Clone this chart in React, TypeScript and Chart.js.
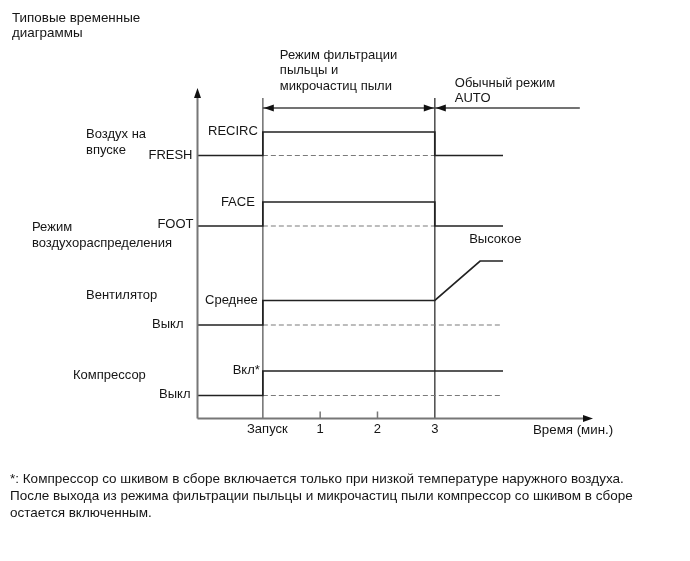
import React, { useEffect, useRef } from "react";
import { Chart, registerables } from "chart.js";

Chart.register(...registerables);

const W = 674;
const H = 545;
const FONT = '"Liberation Sans", Arial, Helvetica, sans-serif';

// ---- time axis (minutes) ----
const AXIS_MIN = -1.14;
const AXIS_MAX = 5.76;
const Y_TOP = 33.05;
const tickValues = [0, 1, 2, 3];
const tickLabels = ["Запуск", "1", "2", "3"];
const boundaryTimes = [0, 3];
const boundaryTop = 32.05;

// ---- regime arrows ----
const filterArrowTimes = [0, 3];
const autoArrowTimes = [3, 5.53];
const arrowLevel = 31.05;

// ---- traces (x = minutes, y = signal level) ----
const intakeTimes = [AXIS_MIN, 0, 0, 3, 3, 4.19];
const intakeValues = [26.3, 26.3, 28.65, 28.65, 26.3, 26.3];
const intakeDashTimes = [0, 3];
const intakeDashValues = [26.3, 26.3];

const modeTimes = [AXIS_MIN, 0, 0, 3, 3, 4.19];
const modeValues = [19.25, 19.25, 21.65, 21.65, 19.25, 19.25];
const modeDashTimes = [0, 3];
const modeDashValues = [19.25, 19.25];

const fanTimes = [AXIS_MIN, 0, 0, 3, 3.79, 4.19];
const fanValues = [9.35, 9.35, 11.8, 11.8, 15.75, 15.75];
const fanDashTimes = [0, 4.17];
const fanDashValues = [9.35, 9.35];

const compTimes = [AXIS_MIN, 0, 0, 4.19];
const compValues = [2.3, 2.3, 4.75, 4.75];
const compDashTimes = [0, 4.17];
const compDashValues = [2.3, 2.3];

const pts = (xs: number[], ys: number[]) => xs.map((x, i) => ({ x, y: ys[i] }));

const SOLID = "#222222";
const DASH = "#7a7a7a";
const GRAY = "#777777";
const TEXT = "#151515";

function arrowHead(ctx: CanvasRenderingContext2D, x: number, y: number, dir: string, len: number, half: number) {
  ctx.beginPath();
  if (dir === "up") {
    ctx.moveTo(x, y);
    ctx.lineTo(x - half, y + len);
    ctx.lineTo(x + half, y + len);
  } else if (dir === "right") {
    ctx.moveTo(x, y);
    ctx.lineTo(x - len, y - half);
    ctx.lineTo(x - len, y + half);
  } else {
    ctx.moveTo(x, y);
    ctx.lineTo(x + len, y - half);
    ctx.lineTo(x + len, y + half);
  }
  ctx.closePath();
  ctx.fill();
}

const diagramPlugin = {
  id: "diagram",
  afterDatasetsDraw(chart: any) {
    const ctx: CanvasRenderingContext2D = chart.ctx;
    const xs = chart.scales.x;
    const ys = chart.scales.y;
    const X = (v: number) => xs.getPixelForValue(v);
    const Y = (v: number) => ys.getPixelForValue(v);
    ctx.save();

    // axes
    const x0 = X(AXIS_MIN);
    const y0 = Y(0);
    ctx.strokeStyle = GRAY;
    ctx.fillStyle = "#111";
    ctx.lineWidth = 2;
    ctx.beginPath();
    ctx.moveTo(x0, y0);
    ctx.lineTo(x0, Y(Y_TOP) + 8);
    ctx.moveTo(x0, y0);
    ctx.lineTo(X(AXIS_MAX) - 8, y0);
    ctx.stroke();
    arrowHead(ctx, x0, Y(Y_TOP), "up", 10, 3.5);
    arrowHead(ctx, X(AXIS_MAX), y0, "right", 10, 3.5);

    // small ticks
    ctx.strokeStyle = GRAY;
    ctx.lineWidth = 1.5;
    ctx.beginPath();
    for (const t of [1, 2]) {
      ctx.moveTo(X(t), y0);
      ctx.lineTo(X(t), y0 - 7);
    }
    ctx.stroke();

    // regime arrowheads
    ctx.fillStyle = "#111";
    arrowHead(ctx, X(filterArrowTimes[0]) + 1, Y(arrowLevel), "left", 10, 3.5);
    arrowHead(ctx, X(filterArrowTimes[1]) - 1, Y(arrowLevel), "right", 10, 3.5);
    arrowHead(ctx, X(autoArrowTimes[0]) + 1, Y(arrowLevel), "left", 10, 3.5);

    // labels
    ctx.fillStyle = TEXT;
    ctx.font = `13px ${FONT}`;
    ctx.textBaseline = "middle";
    const txt = (s: string, x: number, y: number, align: CanvasTextAlign = "left") => {
      ctx.textAlign = align;
      ctx.fillText(s, x, y);
    };

    // tick labels
    const ty = y0 + 11;
    tickValues.forEach((t, i) => {
      txt(tickLabels[i], X(t) + (i === 0 ? 4.5 : 0), ty, "center");
    });
    ctx.font = `13.3px ${FONT}`;
    txt("Время (мин.)", X(AXIS_MAX) - 60, ty + 1, "left");
    ctx.font = `13px ${FONT}`;

    // level labels
    const xs0 = X(0);
    txt("RECIRC", xs0 - 5, Y(intakeValues[2]) - 1, "right");
    txt("FRESH", x0 - 5, Y(intakeValues[0]), "right");
    txt("FACE", xs0 - 8, Y(modeValues[2]), "right");
    txt("FOOT", x0 - 4, Y(modeValues[0]) - 2, "right");
    txt("Среднее", xs0 - 5, Y(fanValues[2]), "right");
    txt("Выкл", x0 - 14, Y(fanValues[0]) - 1, "right");
    txt("Высокое", X(3.6), Y(fanValues[5]) - 22, "left");
    txt("Вкл*", xs0 - 3, Y(compValues[2]) - 1, "right");
    txt("Выкл", x0 - 7, Y(compValues[0]) - 1, "right");

    // row names
    txt("Воздух на", 78, Y(intakeValues[0]) - 21, "left");
    txt("впуске", 78, Y(intakeValues[0]) - 5, "left");
    txt("Режим", 24, Y(modeValues[0]) + 1, "left");
    txt("воздухораспределения", 24, Y(modeValues[0]) + 17, "left");
    txt("Вентилятор", 78, Y(fanValues[2]) - 5, "left");
    txt("Компрессор", 65, Y(compValues[2]) + 4, "left");

    // regime captions
    const ay = Y(arrowLevel);
    txt("Режим фильтрации", xs0 + 17, ay - 53, "left");
    txt("пыльцы и", xs0 + 17, ay - 37.5, "left");
    txt("микрочастиц пыли", xs0 + 17, ay - 22, "left");
    txt("Обычный режим", X(3) + 20, ay - 25, "left");
    txt("AUTO", X(3) + 20, ay - 10, "left");

    ctx.restore();
  },
};

export default function App() {
  const ref = useRef<HTMLCanvasElement | null>(null);

  useEffect(() => {
    if (!ref.current) return;
    const line = (data: any, color: string, width: number, dash: number[] = [], order = 0) => ({
      data,
      borderColor: color,
      borderWidth: width,
      borderDash: dash,
      pointRadius: 0,
      fill: false,
      tension: 0,
      clip: false as any,
      order,
    });
    const datasets = [
      line(pts(intakeTimes, intakeValues), SOLID, 1.7, [], 1),
      line(pts(modeTimes, modeValues), SOLID, 1.7, [], 1),
      line(pts(fanTimes, fanValues), SOLID, 1.7, [], 1),
      line(pts(compTimes, compValues), SOLID, 1.7, [], 1),
      line(pts(intakeDashTimes, intakeDashValues), DASH, 1.2, [5, 3], 2),
      line(pts(modeDashTimes, modeDashValues), DASH, 1.2, [5, 3], 2),
      line(pts(fanDashTimes, fanDashValues), DASH, 1.2, [5, 3], 2),
      line(pts(compDashTimes, compDashValues), DASH, 1.2, [5, 3], 2),
      line(pts([boundaryTimes[0], boundaryTimes[0]], [0, boundaryTop]), GRAY, 1.6, [], 3),
      line(pts([boundaryTimes[1], boundaryTimes[1]], [0, boundaryTop]), "#555", 1.6, [], 3),
      line(pts(filterArrowTimes, [arrowLevel, arrowLevel]), "#444", 1.4, [], 2),
      line(pts(autoArrowTimes, [arrowLevel, arrowLevel]), "#444", 1.4, [], 2),
    ];
    const chart = new Chart(ref.current, {
      type: "line",
      data: { datasets },
      options: {
        animation: false,
        responsive: false,
        devicePixelRatio: 1,
        layout: { padding: { left: 189.5, right: 89, top: 80, bottom: 134.5 } },
        scales: {
          x: { type: "linear", min: AXIS_MIN, max: AXIS_MAX, display: false },
          y: { type: "linear", min: 0, max: Y_TOP, display: false },
        },
        plugins: { legend: { display: false }, tooltip: { enabled: false } },
        events: [],
      },
      plugins: [diagramPlugin],
    } as any);
    return () => chart.destroy();
  }, []);

  const textStyle: React.CSSProperties = {
    position: "absolute",
    fontFamily: FONT,
    color: TEXT,
    whiteSpace: "nowrap",
    margin: 0,
  };

  return (
    <div style={{ position: "relative", width: W, height: H, background: "#fff" }}>
      <canvas ref={ref} width={W} height={H} style={{ position: "absolute", left: 0, top: 0, display: "block" }} />
      <div style={{ ...textStyle, fontSize: 13.4, left: 4, top: 1.5, lineHeight: "15px" }}>
        Типовые временные
        <br />
        диаграммы
      </div>
      <div style={{ ...textStyle, fontSize: 13.5, left: 2, top: 461.5, lineHeight: "17px" }}>
        *: Компрессор со шкивом в сборе включается только при низкой температуре наружного воздуха.
        <br />
        После выхода из режима фильтрации пыльцы и микрочастиц пыли компрессор со шкивом в сборе
        <br />
        остается включенным.
      </div>
    </div>
  );
}
